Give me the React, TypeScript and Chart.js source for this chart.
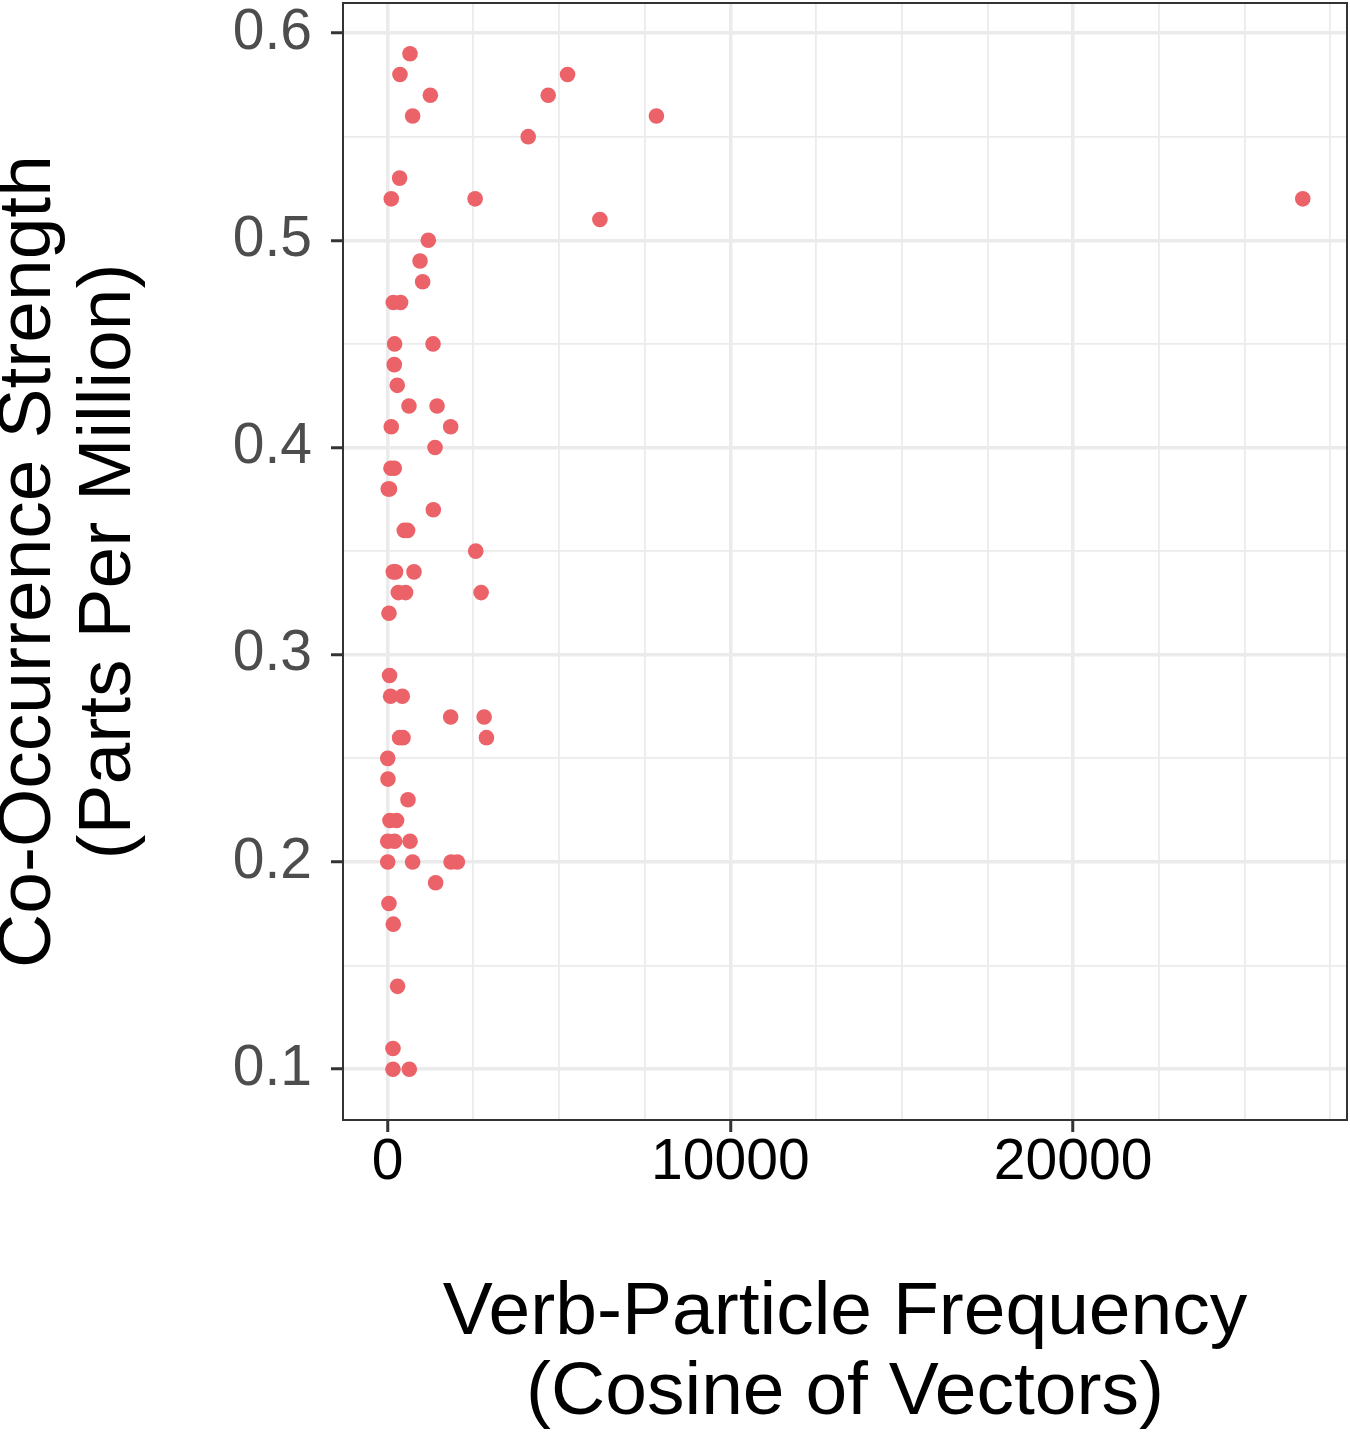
import { useEffect, useRef } from 'react'
import { Chart, registerables } from 'chart.js'

Chart.register(...registerables)

// verb-particle frequency (x) and co-occurrence strength (y), one entry per point
const frequency = [
  655, 362, 5251, 1248, 4687, 731, 7843, 4103, 351, 108, 2554, 26700, 6195, 1189, 947, 1023,
  167, 380, 205, 1327, 196, 283, 625, 1444, 108, 1841, 1385, 99, 196, 20, 58, 1335, 488, 584,
  2572, 167, 234, 771, 313, 526, 2729, 41, 58, 88, 430, 1841, 2817, 351, 450, 2884, 5, 12, 596,
  70, 263, 5, 205, 655, 5, 731, 1853, 2037, 1403, 41, 167, 292, 158, 158, 634,
]
const strength = [
  0.59, 0.58, 0.58, 0.57, 0.57, 0.56, 0.56, 0.55, 0.53, 0.52, 0.52, 0.52, 0.51, 0.5, 0.49, 0.48,
  0.47, 0.47, 0.45, 0.45, 0.44, 0.43, 0.42, 0.42, 0.41, 0.41, 0.4, 0.39, 0.39, 0.38, 0.38, 0.37,
  0.36, 0.36, 0.35, 0.34, 0.34, 0.34, 0.33, 0.33, 0.33, 0.32, 0.29, 0.28, 0.28, 0.27, 0.27, 0.26,
  0.26, 0.26, 0.25, 0.24, 0.23, 0.22, 0.22, 0.21, 0.21, 0.21, 0.2, 0.2, 0.2, 0.2, 0.19, 0.18, 0.17,
  0.14, 0.11, 0.1, 0.1,
]

// grid positions (major + minor) and the labelled ones
const xGrid = [0, 2500, 5000, 7500, 10000, 12500, 15000, 17500, 20000, 22500, 25000, 27500]
const xTickLabels = ['0', '10000', '20000']
const yGrid = [0.1, 0.15, 0.2, 0.25, 0.3, 0.35, 0.4, 0.45, 0.5, 0.55, 0.6]
const yTickLabels = ['0.1', '0.2', '0.3', '0.4', '0.5', '0.6']

const FONT = "'Liberation Sans', Arial, Helvetica, sans-serif"

const isMult = (v: number, step: number) => Math.abs(v / step - Math.round(v / step)) < 1e-6

const panelBorder = {
  id: 'panelBorder',
  afterDatasetsDraw(chart: Chart) {
    const { ctx, chartArea: a } = chart
    ctx.save()
    ctx.strokeStyle = '#333333'
    ctx.lineWidth = 2
    ctx.strokeRect(a.left, a.top, a.right - a.left, a.bottom - a.top)
    ctx.restore()
  },
}

export default function App() {
  const canvasRef = useRef<HTMLCanvasElement | null>(null)
  const chartRef = useRef<Chart | null>(null)

  useEffect(() => {
    document.body.style.margin = '0'
    if (!canvasRef.current) return
    const ctx = canvasRef.current.getContext('2d')!

    chartRef.current = new Chart(ctx, {
      type: 'scatter',
      data: {
        datasets: [
          {
            data: frequency.map((x, i) => ({ x, y: strength[i] })),
            backgroundColor: '#eb6268',
            borderWidth: 0,
            pointRadius: 7.8,
            pointHoverRadius: 7.8,
          },
        ],
      },
      plugins: [panelBorder],
      options: {
        responsive: false,
        animation: false,
        layout: { autoPadding: false, padding: { top: 3, right: 3, left: 0, bottom: 0 } },
        plugins: { legend: { display: false }, tooltip: { enabled: false } },
        scales: {
          x: {
            type: 'linear',
            min: -1300,
            max: 27990,
            afterBuildTicks: (s: any) => {
              s.ticks = xGrid.map((value) => ({ value }))
            },
            afterFit: (s: any) => {
              s.height = 318
              s.paddingLeft = 0
              s.paddingRight = 0
            },
            border: { display: false },
            grid: {
              color: '#ebebeb',
              lineWidth: (c: any) => (c.tick && isMult(c.tick.value, 10000) ? 3.5 : 1.8),
              tickLength: 12,
              tickColor: (c: any) => (c.tick && isMult(c.tick.value, 10000) ? '#333333' : 'rgba(0,0,0,0)'),
              tickWidth: 3,
            },
            ticks: {
              autoSkip: false,
              maxRotation: 0,
              padding: 3,
              color: '#000000',
              font: { family: FONT, size: 57, lineHeight: 1 },
              callback: (v: any) => {
                const s = String(v)
                return xTickLabels.includes(s) ? s : ''
              },
            },
            title: {
              display: true,
              text: ['Verb-Particle Frequency', '(Cosine of Vectors)'],
              color: '#000000',
              font: { family: FONT, size: 75, lineHeight: '80px' },
              padding: { top: 0, bottom: 5 },
            },
          },
          y: {
            type: 'linear',
            min: 0.0755,
            max: 0.6145,
            afterBuildTicks: (s: any) => {
              s.ticks = yGrid.map((value) => ({ value }))
            },
            afterFit: (s: any) => {
              s.width = 343
              s.paddingTop = 0
              s.paddingBottom = 0
            },
            border: { display: false },
            grid: {
              color: '#ebebeb',
              lineWidth: (c: any) => (c.tick && isMult(c.tick.value, 0.1) ? 3.5 : 1.8),
              tickLength: 12,
              tickColor: (c: any) => (c.tick && isMult(c.tick.value, 0.1) ? '#333333' : 'rgba(0,0,0,0)'),
              tickWidth: 3,
            },
            ticks: {
              autoSkip: false,
              padding: 19,
              color: '#4d4d4d',
              font: { family: FONT, size: 57, lineHeight: 1 },
              callback: (v: any) => {
                const s = Number(v).toFixed(1)
                return isMult(Number(v), 0.1) && yTickLabels.includes(s) ? s : ''
              },
            },
            title: {
              display: true,
              text: ['Co-Occurrence Strength', '(Parts Per Million)'],
              color: '#000000',
              font: { family: FONT, size: 75, lineHeight: '80px' },
              padding: { top: -11, bottom: 0 },
            },
          },
        },
      },
    })

    return () => chartRef.current?.destroy()
  }, [])

  return (
    <div style={{ width: 1350, height: 1438 }}>
      <canvas ref={canvasRef} width={1350} height={1438} />
    </div>
  )
}
